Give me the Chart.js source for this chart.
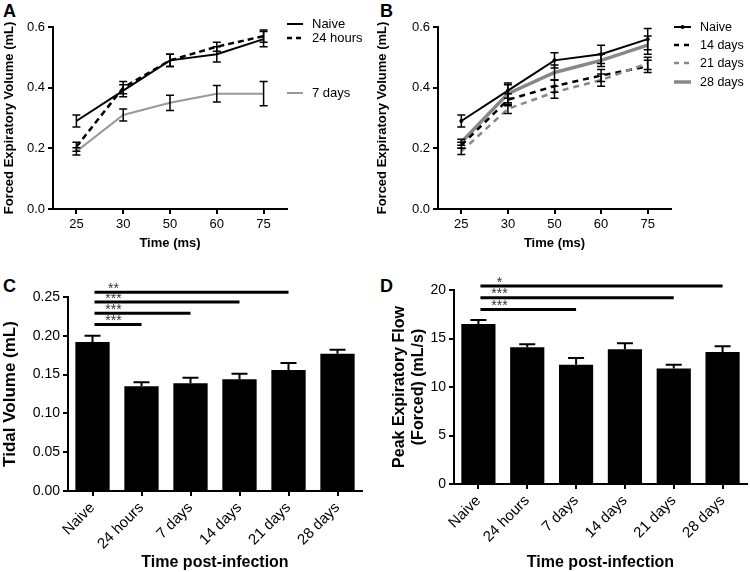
<!DOCTYPE html>
<html>
<head>
<meta charset="utf-8">
<script src="https://cdn.jsdelivr.net/npm/chart.js@4.4.0/dist/chart.umd.min.js"></script>
<style>
body { margin: 0; background: #fff; font-family: "Liberation Sans", Arial, sans-serif; }
#wrap { position: relative; width: 750px; height: 572px; overflow: hidden; }
.box { position: absolute; }
.lbl { position: absolute; font-weight: bold; font-size: 18px; line-height: 1; }
.leg { position: absolute; display: flex; align-items: center; line-height: 1; color: #000; }
.leg svg { margin-right: 9px; }
</style>
</head>
<body>
<div id="wrap">
  <div class="lbl" style="left:3px;top:2px">A</div>
  <div class="lbl" style="left:380px;top:2px">B</div>
  <div class="lbl" style="left:3px;top:277px">C</div>
  <div class="lbl" style="left:380px;top:277px">D</div>

  <div class="box" style="left:0;top:0;width:300px;height:255px"><canvas id="chartA"></canvas></div>
  <div class="box" style="left:375px;top:0;width:300px;height:255px"><canvas id="chartB"></canvas></div>
  <div class="box" style="left:0;top:275px;width:370px;height:297px"><canvas id="chartC"></canvas></div>
  <div class="box" style="left:375px;top:275px;width:375px;height:297px"><canvas id="chartD"></canvas></div>

  <!-- legend A -->
  <div class="leg" style="left:287px;top:17px;font-size:13px"><svg width="16" height="12"><line x1="0" y1="6" x2="16" y2="6" stroke="#000" stroke-width="2"/></svg>Naive</div>
  <div class="leg" style="left:287px;top:31px;font-size:13px"><svg width="16" height="12"><line x1="0" y1="6" x2="16" y2="6" stroke="#000" stroke-width="2.5" stroke-dasharray="5,4"/></svg>24 hours</div>
  <div class="leg" style="left:287px;top:86px;font-size:13px"><svg width="16" height="12"><line x1="0" y1="6" x2="16" y2="6" stroke="#999" stroke-width="2"/></svg>7 days</div>

  <!-- legend B -->
  <div class="leg" style="left:674px;top:21px;font-size:12.5px"><svg width="17" height="12"><line x1="0" y1="6" x2="17" y2="6" stroke="#000" stroke-width="2"/><circle cx="8.5" cy="6" r="2" fill="#000"/></svg>Naive</div>
  <div class="leg" style="left:674px;top:39px;font-size:12.5px"><svg width="17" height="12"><line x1="0" y1="6" x2="17" y2="6" stroke="#000" stroke-width="2.5" stroke-dasharray="5,5"/></svg>14 days</div>
  <div class="leg" style="left:674px;top:57px;font-size:12.5px"><svg width="17" height="12"><line x1="0" y1="6" x2="17" y2="6" stroke="#888" stroke-width="2.5" stroke-dasharray="5,5"/></svg>21 days</div>
  <div class="leg" style="left:674px;top:76px;font-size:12.5px"><svg width="17" height="12"><line x1="0" y1="6" x2="17" y2="6" stroke="#888" stroke-width="3.5"/></svg>28 days</div>
</div>

<script>
// time points for the forced expiratory volume panels
const times = ['25', '30', '50', '60', '75'];

// panel A: FEV (mL)
const naiveA = [0.29, 0.39, 0.49, 0.51, 0.56];
const naiveAErr = [0.02, 0.02, 0.02, 0.025, 0.025];
const hours24A = [0.205, 0.40, 0.49, 0.535, 0.57];
const hours24AErr = [0.015, 0.02, 0.02, 0.015, 0.02];
const days7A = [0.19, 0.31, 0.35, 0.38, 0.38];
const days7AErr = [0.012, 0.02, 0.025, 0.027, 0.04];

// panel B: FEV (mL)
const naiveB = [0.29, 0.39, 0.49, 0.51, 0.56];
const naiveBErr = [0.02, 0.025, 0.025, 0.03, 0.035];
const days14B = [0.21, 0.36, 0.405, 0.44, 0.47];
const days14BErr = [0.01, 0.02, 0.02, 0.02, 0.02];
const days21B = [0.19, 0.33, 0.385, 0.425, 0.48];
const days21BErr = [0.01, 0.015, 0.02, 0.02, 0.02];
const days28B = [0.22, 0.38, 0.45, 0.49, 0.54];
const days28BErr = [0.01, 0.03, 0.025, 0.02, 0.03];

// panels C and D: groups
const groups = ['Naive', '24 hours', '7 days', '14 days', '21 days', '28 days'];
const tidalVolume = [0.192, 0.135, 0.139, 0.144, 0.156, 0.177];
const tidalVolumeErr = [0.008, 0.005, 0.007, 0.007, 0.009, 0.005];
const peakFlow = [16.5, 14.1, 12.3, 13.9, 11.9, 13.6];
const peakFlowErr = [0.4, 0.3, 0.7, 0.6, 0.4, 0.6];

// significance brackets (compared against Naive)
const sigTargetsC = ['21 days', '14 days', '7 days', '24 hours'];
const sigLevelsC = [0.256, 0.2435, 0.229, 0.2145];
const sigStarsC = ['**', '***', '***', '***'];
const sigTargetsD = ['28 days', '21 days', '7 days'];
const sigLevelsD = [20.4, 19.2, 18.0];
const sigStarsD = ['*', '***', '***'];

const FONT = '"Liberation Sans", Arial, sans-serif';

// draws error bars from ds.err
const errorBars = {
  id: 'errorBars',
  afterDatasetsDraw(chart, args, opts) {
    const ctx = chart.ctx, y = chart.scales.y;
    const cap = opts.cap || 4;
    chart.data.datasets.forEach((ds, i) => {
      if (!ds.err) return;
      const meta = chart.getDatasetMeta(i);
      ctx.save();
      ctx.strokeStyle = '#000';
      ctx.lineWidth = opts.width || 1.5;
      meta.data.forEach((el, j) => {
        const v = ds.data[j], e = ds.err[j];
        const top = y.getPixelForValue(v + e);
        const bot = opts.upOnly ? y.getPixelForValue(v) : y.getPixelForValue(v - e);
        ctx.beginPath();
        ctx.moveTo(el.x, top); ctx.lineTo(el.x, bot);
        ctx.moveTo(el.x - cap, top); ctx.lineTo(el.x + cap, top);
        if (!opts.upOnly) { ctx.moveTo(el.x - cap, bot); ctx.lineTo(el.x + cap, bot); }
        ctx.stroke();
      });
      ctx.restore();
    });
  }
};

// significance lines with stars above
const sigBars = {
  id: 'sigBars',
  afterDraw(chart, args, opts) {
    if (!opts.targets) return;
    const ctx = chart.ctx, x = chart.scales.x, y = chart.scales.y;
    const labels = chart.data.labels;
    ctx.save();
    opts.targets.forEach((t, i) => {
      const x0 = x.getPixelForValue(0) + 2;
      const x1 = x.getPixelForValue(labels.indexOf(t));
      const py = y.getPixelForValue(opts.levels[i]);
      ctx.strokeStyle = '#000';
      ctx.lineWidth = 3;
      ctx.beginPath(); ctx.moveTo(x0, py); ctx.lineTo(x1, py); ctx.stroke();
      ctx.fillStyle = '#333';
      ctx.font = '14px ' + FONT;
      ctx.textAlign = 'center';
      ctx.textBaseline = 'alphabetic';
      ctx.fillText(opts.stars[i], x0 + 19, py + 0.5);
    });
    ctx.restore();
  }
};

function axisStyle(fontSize) {
  return {
    border: { color: '#000', width: 2 },
    grid: { drawOnChartArea: false, drawTicks: true, tickLength: 5, color: '#000', lineWidth: 2, offset: false },
    ticks: { color: '#000', font: { size: fontSize, family: FONT }, padding: 3 }
  };
}

function lineChart(id, datasets, pad, yWidth, yTitle) {
  const xs = axisStyle(13), ys = axisStyle(13);
  new Chart(document.getElementById(id), {
    type: 'line',
    data: { labels: times, datasets: datasets },
    options: {
      responsive: true, maintainAspectRatio: false, animation: false,
      layout: { padding: pad },
      plugins: { legend: { display: false }, tooltip: { enabled: false }, errorBars: { cap: 4, width: 1.5 } },
      scales: {
        x: Object.assign(xs, {
          offset: true,
          title: { display: true, text: 'Time (ms)', color: '#000', font: { size: 13, weight: 'bold', family: FONT }, padding: { top: 4 } },
          afterFit(s) { s.height = 46; }
        }),
        y: Object.assign(ys, {
          min: 0, max: 0.6,
          ticks: Object.assign(ys.ticks, { stepSize: 0.2, callback: v => v.toFixed(1) }),
          title: { display: true, text: yTitle, color: '#000', font: { size: 13, weight: 'bold', family: FONT }, padding: 0 },
          afterFit(s) { s.width = yWidth; }
        })
      }
    },
    plugins: [errorBars]
  });
}

lineChart('chartA', [
  { data: naiveA, err: naiveAErr, borderColor: '#000', borderWidth: 2, pointRadius: 0, tension: 0 },
  { data: hours24A, err: hours24AErr, borderColor: '#000', borderWidth: 2.5, borderDash: [6, 4], pointRadius: 0 },
  { data: days7A, err: days7AErr, borderColor: '#999', borderWidth: 2, pointRadius: 0 }
], { top: 27, right: 13, left: 2, bottom: 0 }, 51, 'Forced Expiratory Volume (mL)');

lineChart('chartB', [
  { data: days21B, err: days21BErr, borderColor: '#888', borderWidth: 2.5, borderDash: [6, 5], pointRadius: 0 },
  { data: days14B, err: days14BErr, borderColor: '#000', borderWidth: 2.5, borderDash: [6, 5], pointRadius: 0 },
  { data: days28B, err: days28BErr, borderColor: '#888', borderWidth: 3.5, pointRadius: 0 },
  { data: naiveB, err: naiveBErr, borderColor: '#000', borderWidth: 2, pointRadius: 2, pointBackgroundColor: '#000', pointBorderWidth: 0 }
], { top: 27, right: 0, left: 0, bottom: 0 }, 63, 'Forced Expiratory Volume (mL)');

function barChart(id, values, errs, yOpts, pad, yWidth, xHeight, yTitle, yTitleSize, sig) {
  const xs = axisStyle(15), ys = axisStyle(14);
  new Chart(document.getElementById(id), {
    type: 'bar',
    data: { labels: groups, datasets: [{ data: values, err: errs, backgroundColor: '#000', barPercentage: 0.7, categoryPercentage: 1 }] },
    options: {
      responsive: true, maintainAspectRatio: false, animation: false,
      layout: { padding: pad },
      plugins: {
        legend: { display: false }, tooltip: { enabled: false },
        errorBars: { cap: 8, width: 2, upOnly: true },
        sigBars: sig
      },
      scales: {
        x: Object.assign(xs, {
          ticks: Object.assign(xs.ticks, { minRotation: 45, maxRotation: 45 }),
          title: { display: true, text: 'Time post-infection', color: '#000', font: { size: 16, weight: 'bold', family: FONT }, padding: 0 },
          afterFit(s) { s.height = xHeight; }
        }),
        y: Object.assign(ys, yOpts, {
          ticks: Object.assign(ys.ticks, yOpts.ticks),
          title: { display: true, text: yTitle, color: '#000', font: { size: yTitleSize, weight: 'bold', family: FONT }, padding: 0 },
          afterFit(s) { s.width = yWidth; }
        })
      }
    },
    plugins: [errorBars, sigBars]
  });
}

barChart('chartC', tidalVolume, tidalVolumeErr,
  { min: 0, max: 0.25, ticks: { stepSize: 0.05, callback: v => v.toFixed(2) } },
  { top: 22, right: 8, left: 0, bottom: 0 }, 68, 81, 'Tidal Volume (mL)', 17,
  { targets: sigTargetsC, levels: sigLevelsC, stars: sigStarsC });

barChart('chartD', peakFlow, peakFlowErr,
  { min: 0, max: 20, ticks: { stepSize: 5 } },
  { top: 15, right: 3, left: 15, bottom: 0 }, 64, 88, ['Peak Expiratory Flow', '(Forced) (mL/s)'], 16,
  { targets: sigTargetsD, levels: sigLevelsD, stars: sigStarsD });
</script>
</body>
</html>
